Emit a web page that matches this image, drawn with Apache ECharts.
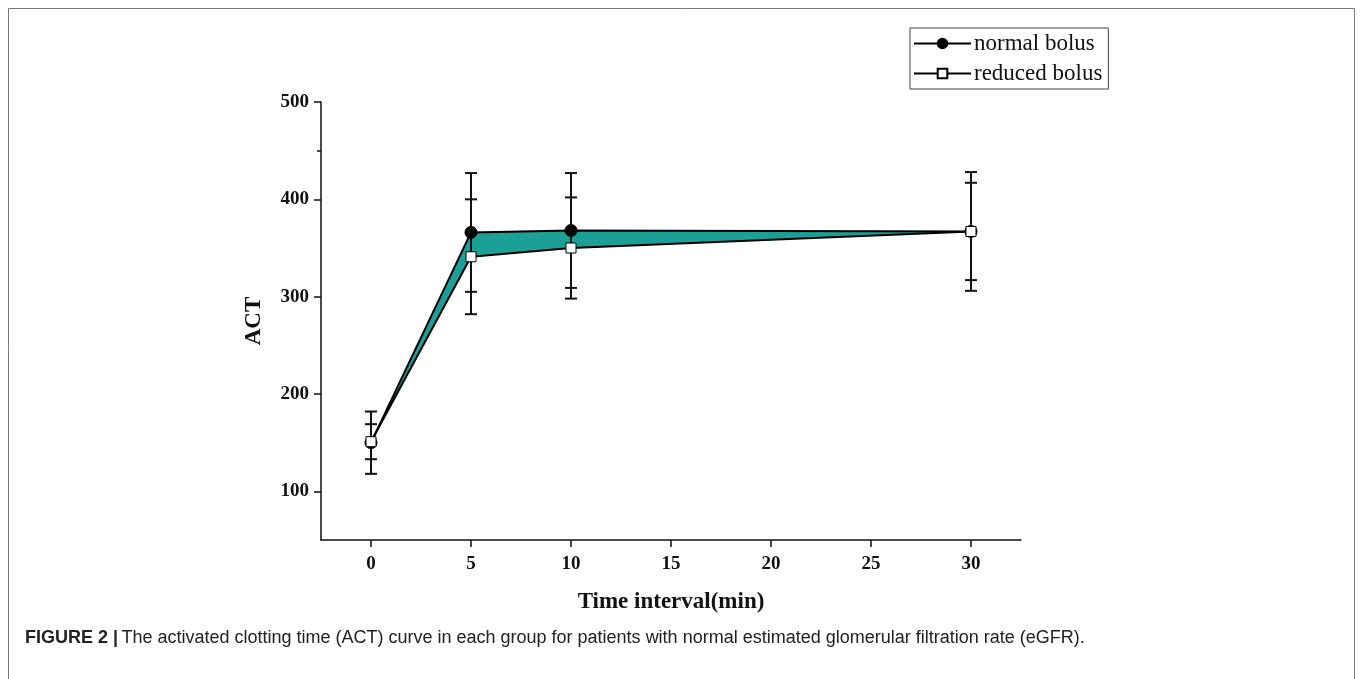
<!DOCTYPE html>
<html>
<head>
<meta charset="utf-8">
<script src="https://cdn.jsdelivr.net/npm/echarts@6/dist/echarts.min.js"></script>
<style>
html,body{margin:0;padding:0;background:#fff;}
#chart{width:1360px;height:679px;}
</style>
</head>
<body>
<div id="chart"></div>
<script>
// ---- data ----
var times = [0, 5, 10, 30];
var normalMean = [150, 366, 368, 367];
var normalSD = [32, 61, 59, 61];
var reducedMean = [151, 341, 350, 367];
var reducedSD = [18, 59, 52, 50];
var xTicks = [0, 5, 10, 15, 20, 25, 30];
var yTicks = [100, 200, 300, 400, 500];
var yMinorTicks = [450];

var serif = 'Liberation Serif, Times New Roman, serif';

function pairs(xs, ys) { return xs.map(function (x, i) { return [x, ys[i]]; }); }
// band segments between consecutive time points: [x1, lower1, upper1, x2, lower2, upper2]
var bandData = [];
for (var i = 0; i < times.length - 1; i++) {
  bandData.push([times[i], reducedMean[i], normalMean[i], times[i + 1], reducedMean[i + 1], normalMean[i + 1]]);
}
var errData = [];
times.forEach(function (t, i) {
  errData.push([t, normalMean[i] - normalSD[i], normalMean[i] + normalSD[i]]);
  errData.push([t, reducedMean[i] - reducedSD[i], reducedMean[i] + reducedSD[i]]);
});

var chart = echarts.init(document.getElementById('chart'));
var option = {
  animation: false,
  backgroundColor: '#fff',
  grid: { left: 321, right: 339, top: 102, bottom: 139, containLabel: false },
  legend: {
    left: 910, top: 28, orient: 'vertical',
    data: ['normal bolus', 'reduced bolus'],
    itemWidth: 57, itemHeight: 12, itemGap: 7,
    padding: [4, 6, 4, 3],
    borderColor: '#444', borderWidth: 1,
    textStyle: { fontFamily: serif, fontSize: 23, color: '#111', padding: [0, 0, 0, -2] }
  },
  xAxis: {
    type: 'value', min: -2.5, max: 32.5,
    name: 'Time interval(min)', nameLocation: 'middle', nameGap: 51,
    nameTextStyle: { fontFamily: serif, fontSize: 23, fontWeight: 'bold', color: '#111' },
    axisLine: { show: true, onZero: false, lineStyle: { color: '#111', width: 1.5 } },
    axisTick: { show: true, length: 7, inside: false, customValues: xTicks, lineStyle: { color: '#111', width: 1.5 } },
    axisLabel: { customValues: xTicks, fontFamily: serif, fontSize: 19, fontWeight: 'bold', color: '#111', margin: 15 },
    splitLine: { show: false }
  },
  yAxis: [{
    type: 'value', min: 50, max: 500,
    name: 'ACT', nameLocation: 'middle', nameGap: 55, nameRotate: 90,
    nameTextStyle: { fontFamily: serif, fontSize: 23, fontWeight: 'bold', color: '#111' },
    axisLine: { show: true, onZero: false, lineStyle: { color: '#111', width: 1.5 } },
    axisTick: { show: true, length: 7, customValues: yTicks, lineStyle: { color: '#111', width: 1.5 } },
    axisLabel: { customValues: yTicks, fontFamily: serif, fontSize: 19, fontWeight: 'bold', color: '#111', margin: 12 },
    splitLine: { show: false }
  }, {
    type: 'value', min: 50, max: 500, position: 'left',
    axisLine: { show: false, onZero: false },
    axisTick: { show: true, length: 4, customValues: yMinorTicks, lineStyle: { color: '#111', width: 1.5 } },
    axisLabel: { show: false },
    splitLine: { show: false }
  }],
  series: [
    {
      name: 'band', type: 'custom', data: bandData, z: 1, silent: true,
      renderItem: function (params, api) {
        var a = api.coord([api.value(0), api.value(1)]);
        var b = api.coord([api.value(0), api.value(2)]);
        var c = api.coord([api.value(3), api.value(5)]);
        var d = api.coord([api.value(3), api.value(4)]);
        return {
          type: 'polygon', shape: { points: [a, b, c, d] },
          style: { fill: '#1c9f97', stroke: '#1c9f97', lineWidth: 0.5 }
        };
      }
    },
    {
      name: 'err', type: 'custom', data: errData, z: 3, silent: true,
      renderItem: function (params, api) {
        var x = api.value(0);
        var lo = api.coord([x, api.value(1)]);
        var hi = api.coord([x, api.value(2)]);
        var hw = 6;
        var st = { stroke: '#111', lineWidth: 2 };
        return {
          type: 'group', children: [
            { type: 'line', shape: { x1: lo[0], y1: lo[1], x2: hi[0], y2: hi[1] }, style: st },
            { type: 'line', shape: { x1: lo[0] - hw, y1: lo[1], x2: lo[0] + hw, y2: lo[1] }, style: st },
            { type: 'line', shape: { x1: hi[0] - hw, y1: hi[1], x2: hi[0] + hw, y2: hi[1] }, style: st }
          ]
        };
      }
    },
    {
      name: 'normal bolus', type: 'line', data: pairs(times, normalMean), z: 5,
      symbol: 'circle', symbolSize: 12,
      itemStyle: { color: '#000', borderColor: '#000', borderWidth: 1 },
      lineStyle: { color: '#000', width: 2 }
    },
    {
      name: 'reduced bolus', type: 'line', data: pairs(times, reducedMean), z: 6,
      symbol: 'rect', symbolSize: 10,
      itemStyle: { color: '#fff', borderColor: '#000', borderWidth: 1 },
      lineStyle: { color: '#000', width: 2 }
    }
  ],
  graphic: [
    { type: 'rect', shape: { x: 8.5, y: 8.5, width: 1346, height: 700 },
      style: { fill: 'none', stroke: '#777', lineWidth: 1 }, silent: true },
    { type: 'text', left: 25, top: 629,
      style: {
        rich: {
          b: { fontFamily: 'Liberation Sans, Arial, sans-serif', fontSize: 18, fontWeight: 'bold', fill: '#222' },
          n: { fontFamily: 'Liberation Sans, Arial, sans-serif', fontSize: 18, fill: '#222' }
        },
        text: '{b|FIGURE 2 |} {n|The activated clotting time (ACT) curve in each group for patients with normal estimated glomerular filtration rate (eGFR).}'
      }
    }
  ]
};
chart.setOption(option);
</script>
</body>
</html>
